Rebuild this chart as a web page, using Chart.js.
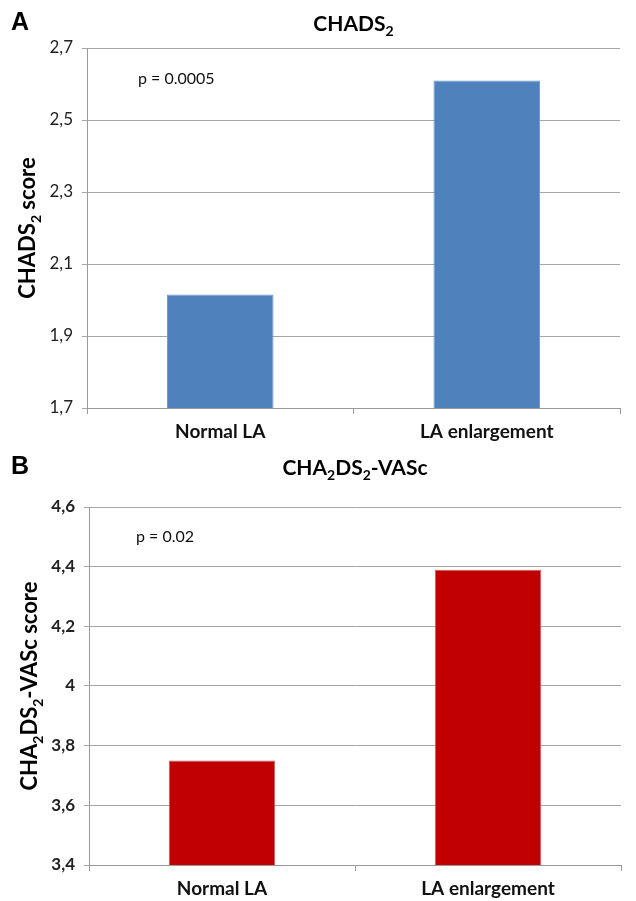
<!DOCTYPE html>
<html>
<head>
<meta charset="utf-8">
<script src="https://cdn.jsdelivr.net/npm/chart.js@4/dist/chart.umd.min.js"></script>
<style>
  html, body { margin: 0; padding: 0; background: #fff; }
  #wrap { position: relative; width: 636px; height: 901px; }
  canvas { position: absolute; left: 0; }
</style>
</head>
<body>
<div id="wrap">
  <canvas id="chartA" width="636" height="445" style="top:0"></canvas>
  <canvas id="chartB" width="636" height="456" style="top:445px"></canvas>
</div>
<script>
const categories = ['Normal LA', 'LA enlargement'];

// panel A: CHADS2
const chadsValues = [2.015, 2.61];
const chadsTickValues = [1.7, 1.9, 2.1, 2.3, 2.5, 2.7];

// panel B: CHA2DS2-VASc
const vascValues = [3.75, 4.39];
const vascTickValues = [3.4, 3.6, 3.8, 4.0, 4.2, 4.4, 4.6];

const FONT = 'Lato, "Open Sans", sans-serif';

// draw text with subscript parts: parts = [[text, isSub], ...]
function richWidth(ctx, parts, size) {
  let w = 0;
  parts.forEach(p => {
    ctx.font = 'bold ' + (p[1] ? Math.round(size * 0.65) : size) + 'px ' + FONT;
    w += ctx.measureText(p[0]).width;
  });
  return w;
}
function drawRich(ctx, parts, x, y, size) {
  let w = richWidth(ctx, parts, size);
  let cx = x - w / 2;
  ctx.textBaseline = 'alphabetic';
  ctx.textAlign = 'left';
  parts.forEach(p => {
    const s = p[1] ? Math.round(size * 0.65) : size;
    ctx.font = 'bold ' + s + 'px ' + FONT;
    ctx.fillText(p[0], cx, p[1] ? y + size * 0.25 : y);
    cx += ctx.measureText(p[0]).width;
  });
}

const panelText = {
  id: 'panelText',
  afterDraw(chart, args, o) {
    const ctx = chart.ctx, a = chart.chartArea;
    ctx.save();
    ctx.fillStyle = '#000';
    // panel letter
    ctx.font = 'bold 25px "Liberation Sans", Arial, sans-serif';
    ctx.textAlign = 'left';
    ctx.textBaseline = 'middle';
    ctx.fillText(o.letter, 11, o.letterY);
    // title
    drawRich(ctx, o.title, (a.left + a.right) / 2, o.titleY, 21);
    // y title
    ctx.save();
    ctx.translate(o.yTitleX, (a.top + a.bottom) / 2);
    ctx.rotate(-Math.PI / 2);
    drawRich(ctx, o.yTitle, 0, 0, 22);
    ctx.restore();
    // p value
    ctx.font = '16px ' + FONT;
    ctx.fillStyle = '#111';
    ctx.textAlign = 'left';
    ctx.textBaseline = 'middle';
    ctx.fillText(o.pText, o.pX, o.pY);
    ctx.restore();
  }
};

function fmtTick(v) {
  return String(Number(v.toFixed(1))).replace('.', ',');
}

function makeChart(id, values, tickValues, color, border, opt) {
  const canvas = document.getElementById(id);
  return new Chart(canvas, {
    type: 'bar',
    data: {
      labels: categories,
      datasets: [{
        data: values,
        backgroundColor: color,
        borderColor: border,
        borderWidth: 1,
        barPercentage: 0.4,
        categoryPercentage: 1.0
      }]
    },
    options: {
      responsive: false,
      animation: false,
      devicePixelRatio: 1,
      layout: { padding: { top: opt.top, right: opt.right, left: 0, bottom: 0 } },
      plugins: {
        legend: { display: false },
        tooltip: { enabled: false },
        panelText: opt.text
      },
      scales: {
        x: {
          grid: { offset: true, drawOnChartArea: false, tickLength: 6, color: '#999' },
          border: { color: '#999' },
          ticks: { font: { family: FONT, size: 19, weight: 'bold' }, color: '#111', padding: 6 },
          afterFit: s => { s.height = canvas.height - opt.bottom; }
        },
        y: {
          min: tickValues[0],
          max: tickValues[tickValues.length - 1],
          ticks: {
            stepSize: tickValues[1] - tickValues[0],
            callback: v => fmtTick(v),
            font: { family: FONT, size: 17, weight: opt.tickWeight },
            color: '#222',
            padding: 9
          },
          grid: { color: '#a6a6a6', tickLength: 5 },
          border: { color: '#999' },
          afterFit: s => { s.width = opt.left; }
        }
      }
    },
    plugins: [panelText]
  });
}

makeChart('chartA', chadsValues, chadsTickValues, '#4f81bd', '#6d98cf', {
  top: 48, right: 16, left: 87, bottom: 408, tickWeight: 'normal',
  text: {
    letter: 'A', letterY: 23,
    title: [['CHADS', 0], ['2', 1]], titleY: 31,
    yTitle: [['CHADS', 0], ['2', 1], [' score', 0]], yTitleX: 35,
    pText: 'p = 0.0005', pX: 138, pY: 79
  }
});

makeChart('chartB', vascValues, vascTickValues, '#c00000', '#d45a5a', {
  top: 62, right: 15, left: 89, bottom: 420, tickWeight: 'bold',
  text: {
    letter: 'B', letterY: 22,
    title: [['CHA', 0], ['2', 1], ['DS', 0], ['2', 1], ['-VASc', 0]], titleY: 30,
    yTitle: [['CHA', 0], ['2', 1], ['DS', 0], ['2', 1], ['-VASc score', 0]], yTitleX: 37,
    pText: 'p = 0.02', pX: 136, pY: 92
  }
});
</script>
</body>
</html>
